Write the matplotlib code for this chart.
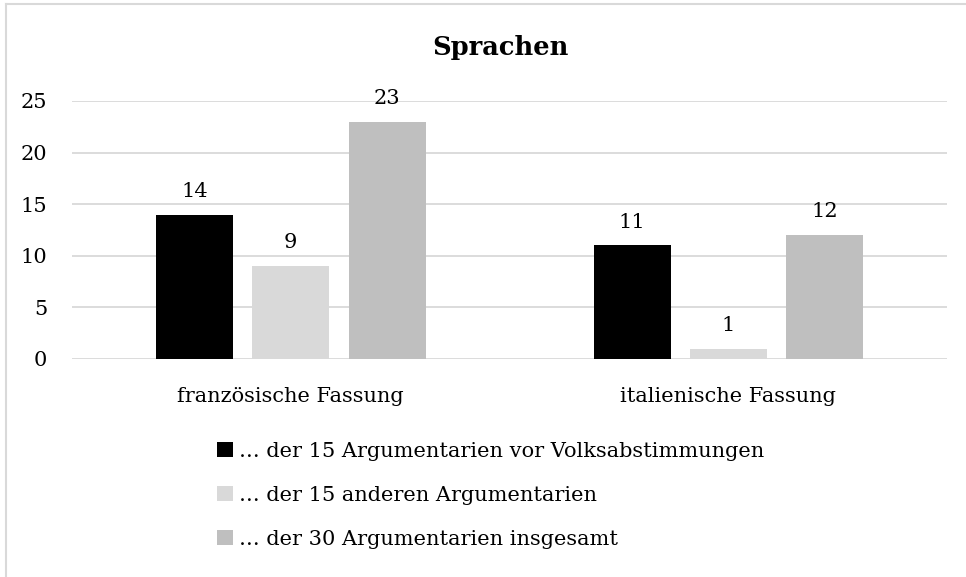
import matplotlib
matplotlib.use("Agg")
import matplotlib.pyplot as plt
import numpy as np
from matplotlib.patches import Patch
from matplotlib.lines import Line2D

categories = ["französische Fassung", "italienische Fassung"]
series_names = ["… der 15 Argumentarien vor Volksabstimmungen",
                "… der 15 anderen Argumentarien",
                "… der 30 Argumentarien insgesamt"]
vor_volksabstimmungen = [14, 11]
andere = [9, 1]
insgesamt = [23, 12]
series_values = [vor_volksabstimmungen, andere, insgesamt]
colors = ["#000000", "#D9D9D9", "#BFBFBF"]
yticks = [0, 5, 10, 15, 20, 25]
title = "Sprachen"

plt.rcParams['font.family'] = ['DejaVu Serif']
FS = 15

fig = plt.figure(figsize=(9.66, 5.77), dpi=100)
ax = fig.add_axes([72/966, 1-359/577, (947-72)/966, (359-101)/577])

x = np.arange(len(categories))
w = 0.176
step = 0.22
for i, (vals, col) in enumerate(zip(series_values, colors)):
    bars = ax.bar(x + (i-1)*step, vals, width=w, color=col, zorder=3, label=series_names[i])
    ax.bar_label(bars, padding=10, fontsize=FS)

ax.set_xlim(-0.5, 1.5)
ax.set_ylim(0, 25)
ax.set_yticks(yticks)
ax.set_yticklabels([str(t) for t in yticks], fontsize=FS)
ax.set_xticks(x)
ax.set_xticklabels(categories, fontsize=FS)
ax.tick_params(axis='both', length=0)
ax.tick_params(axis='y', pad=18)
ax.tick_params(axis='x', pad=20)
ax.grid(axis='y', color='#D9D9D9', linewidth=1.3, zorder=0)
for s in ax.spines.values():
    s.set_visible(False)

fig.text(500/966, 1-47/577, title, fontsize=18.5, fontweight='bold', ha='center', va='center')

handles = [Patch(facecolor=c, edgecolor='none') for c in colors]
fig.legend(handles, series_names, loc='upper left', bbox_to_anchor=(217/966, 1-442/577),
           frameon=False, fontsize=FS, handlelength=0.75, handleheight=0.75,
           handletextpad=0.3, labelspacing=1.2, borderaxespad=0, borderpad=0)

fig.add_artist(Line2D([6/966, 6/966], [0, 1-4/577], transform=fig.transFigure, color='#D9D9D9', lw=1.5))
fig.add_artist(Line2D([6/966, 1], [1-4/577, 1-4/577], transform=fig.transFigure, color='#D9D9D9', lw=1.5))

fig.savefig("out.png", dpi=100)
